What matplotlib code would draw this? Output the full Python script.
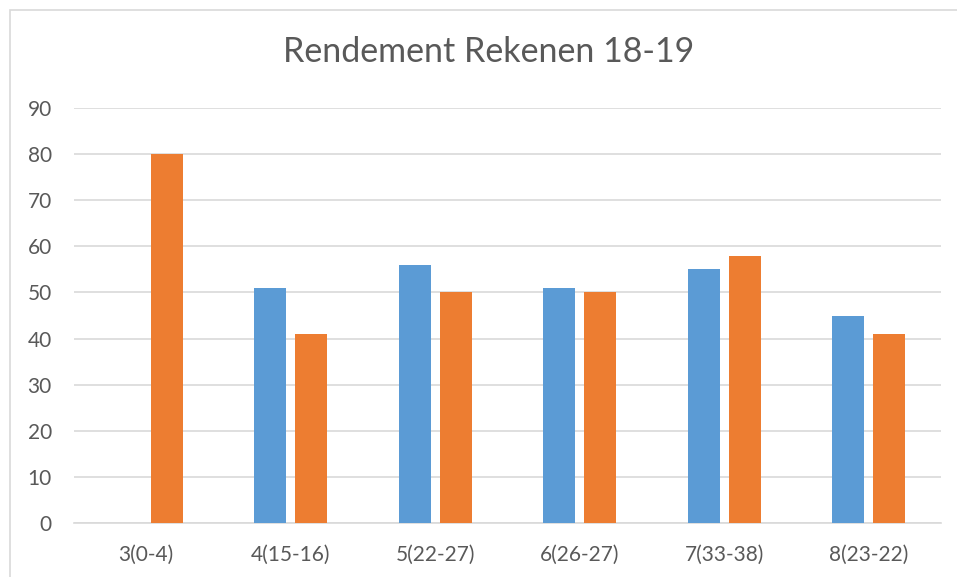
import matplotlib
matplotlib.use("Agg")
import matplotlib.pyplot as plt
import numpy as np
from matplotlib.patches import Rectangle


CATEGORIES = ["3(0-4)", "4(15-16)", "5(22-27)", "6(26-27)", "7(33-38)", "8(23-22)"]
BLUE_VALUES = [0, 51, 56, 51, 55, 45]
ORANGE_VALUES = [80, 41, 50, 50, 58, 41]
TITLE = "Rendement Rekenen 18-19"

BLUE = "#5B9BD5"
ORANGE = "#ED7D31"
TEXT = "#595959"
GRID = "#D9D9D9"

W, H = 957, 577


def main():
    plt.rcParams["font.family"] = ["Lato", "DejaVu Sans"]

    fig = plt.figure(figsize=(W / 100, H / 100), dpi=100)

    # chart frame (only left and top edges are visible in the reference)
    fig.patches.append(
        Rectangle(
            (10 / W, -0.1), 1.2, 1 - 10 / H + 0.1,
            transform=fig.transFigure, fill=False,
            edgecolor=GRID, linewidth=1.2,
        )
    )

    left, right = 74 / W, 941 / W
    bottom, top = 1 - 523 / H, 1 - 108 / H
    ax = fig.add_axes([left, bottom, right - left, top - bottom])

    x = np.arange(len(CATEGORIES))
    width = 0.221
    offset = 0.142

    ax.bar(x - offset, BLUE_VALUES, width, color=BLUE, zorder=3)
    ax.bar(x + offset, ORANGE_VALUES, width, color=ORANGE, zorder=3)

    ax.set_xlim(-0.5, len(CATEGORIES) - 0.5)
    ax.set_ylim(0, 90)
    ax.set_yticks(range(0, 91, 10))
    ax.set_xticks(x)
    ax.set_xticklabels(CATEGORIES)

    ax.yaxis.grid(True, color=GRID, linewidth=1.2, zorder=0)
    for side in ["top", "right", "left"]:
        ax.spines[side].set_visible(False)
    ax.spines["bottom"].set_color(GRID)
    ax.spines["bottom"].set_linewidth(1.2)

    ax.tick_params(axis="both", length=0, colors=TEXT, labelsize=15)
    ax.tick_params(axis="y", pad=16)
    ax.tick_params(axis="x", pad=16)

    fig.text(
        489 / W, 1 - 52 / H, TITLE,
        ha="center", va="center", fontsize=24.5, color=TEXT,
    )

    fig.savefig("out.png", dpi=100)


if __name__ == "__main__":
    main()
